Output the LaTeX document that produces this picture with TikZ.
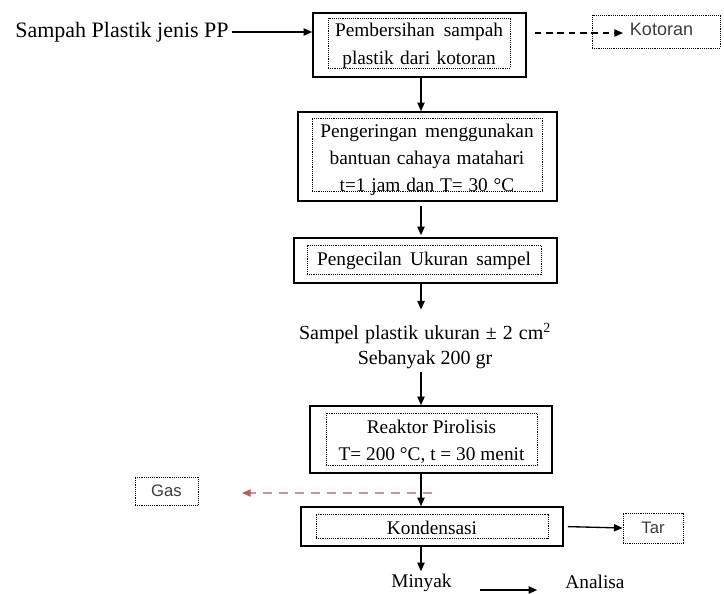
\documentclass[tikz,border=0pt]{standalone}
\usepackage{fontspec}
\setmainfont{Liberation Serif}
\newfontfamily\sansf{Liberation Sans}
\usetikzlibrary{arrows.meta}
\newcommand\pu{0.75pt}
\definecolor{gasline}{RGB}{200,150,150}
\definecolor{gashead}{RGB}{185,95,95}
\definecolor{sidetext}{RGB}{60,60,60}
\begin{document}
\begin{tikzpicture}[x=0.75pt,y=-0.75pt,
  outer/.style={draw, line width=1.2pt, inner sep=0pt},
  frame/.style={draw, line width=0.6pt, dash pattern=on 0.7pt off 0.7pt, inner sep=0pt},
  boxtext/.style={inner sep=0pt, align=center, font=\fontsize{14.5}{20.5}\selectfont},
  side/.style={frame, font=\sansf\fontsize{12.5}{15}\selectfont, text=sidetext},
  sidetxt/.style={inner sep=0pt, font=\sansf\fontsize{13.5}{15}\selectfont, text=sidetext},
  plain/.style={inner sep=2pt, align=center, font=\fontsize{14.5}{20.5}\selectfont},
  arr/.style={line width=1pt, -{Triangle[length=6.5pt,width=5.5pt]}},
  darr/.style={arr, dash pattern=on 5pt off 3.5pt},
  garr/.style={line width=1pt, draw=gasline, dash pattern=on 7pt off 5pt, -{Triangle[length=6.5pt,width=5.5pt,color=gashead]}}
]
\useasboundingbox (0,0) rectangle (724,593);

% left input text
\node[font=\fontsize{16.5}{20}\selectfont, inner sep=2pt] (sampah) at (122,32) {Sampah Plastik jenis PP};

% box 1
\node[outer, minimum width=213*\pu, minimum height=64*\pu] (b1o) at (419.5,45) {};
\node[frame, minimum width=182*\pu, minimum height=50*\pu] (b1f) at (419,43) {};
\node[boxtext] (b1) at (419,46)
  {\makebox[126pt][s]{Pembersihan sampah}\\\makebox[115pt][s]{plastik dari kotoran}};

% box 2
\node[outer, minimum width=259*\pu, minimum height=89*\pu] (b2o) at (427.5,156.5) {};
\node[frame, minimum width=230*\pu, minimum height=73*\pu] (b2f) at (427,154.5) {};
\node[boxtext] (b2) at (427,160)
  {\makebox[160pt][s]{Pengeringan menggunakan}\\\makebox[146pt][s]{bantuan cahaya matahari}\\\makebox[131pt][s]{t=1 jam dan T= 30 °C}};

% box 3
\node[outer, minimum width=263*\pu, minimum height=45*\pu] (b3o) at (425.5,260.5) {};
\node[frame, minimum width=234*\pu, minimum height=29*\pu] (b3f) at (424,259.5) {};
\node[boxtext] (b3) at (424,261) {\makebox[160.5pt][s]{Pengecilan Ukuran sampel}};

% sample text
\node[plain, font=\fontsize{15}{18.75}\selectfont] (sampel) at (425,346)
  {\makebox[189pt][s]{Sampel plastik ukuran ± 2 cm\textsuperscript{2}}\\Sebanyak 200 gr};

% box 4
\node[outer, minimum width=242*\pu, minimum height=67*\pu] (b4o) at (431,439.5) {};
\node[frame, minimum width=211*\pu, minimum height=52*\pu] (b4f) at (431.5,439) {};
\node[boxtext] (b4) at (431.5,441.5) {Reaktor Pirolisis\\T= 200 °C, t = 30 menit};

% box 5
\node[outer, minimum width=262*\pu, minimum height=39*\pu] (b5o) at (432,526.5) {};
\node[frame, minimum width=232*\pu, minimum height=24*\pu] (b5f) at (432,526) {};
\node[boxtext] (b5) at (432,528) {Kondensasi};

% side boxes
\node[frame, minimum width=128*\pu, minimum height=33*\pu] (kotf) at (656,31.5) {};
\node[sidetxt] (kotoran) at (661.5,29) {Kotoran};
\node[side, minimum width=63*\pu, minimum height=28*\pu] (gas) at (166.5,491) {Gas};
\node[side, minimum width=60*\pu, minimum height=30*\pu] (tar) at (653,528) {Tar};

% bottom texts
\node[plain] (minyak) at (421.5,583) {Minyak};
\node[plain] (analisa) at (595,582) {Analisa};

% connectors
\coordinate (ax) at (421,0);
\coordinate (kt) at (623,33);
\coordinate (gs) at (432,493);
\coordinate (ge) at (242,493);

\draw[arr] (sampah.east) -- (sampah.east -| b1o.west);
\draw[darr, shorten <=6pt] (b1o.east |- kt) -- (kt);
\draw[arr] (b1o.south -| ax) -- (b2o.north -| ax);
\draw[arr, shorten <=3pt, shorten >=1.5pt] (b2o.south -| ax) -- (b3o.north -| ax);
\draw[arr, shorten >=8pt] (b3o.south -| ax) -- (sampel.north -| ax);
\draw[arr] (sampel.south -| ax) -- (b4o.north -| ax);
\draw[garr] (gs) -- (ge);
\draw[arr] (b4o.south -| ax) -- (b5o.north -| ax);
\draw[arr, shorten <=3pt] (b5o.east) -- (tar.west);
\draw[arr] (b5o.south -| ax) -- (minyak.north -| ax);
\draw[arr] ([xshift=19pt,yshift=-5.25pt]minyak.east) -- ([xshift=-19pt,yshift=-6pt]analisa.west);
\end{tikzpicture}
\end{document}
